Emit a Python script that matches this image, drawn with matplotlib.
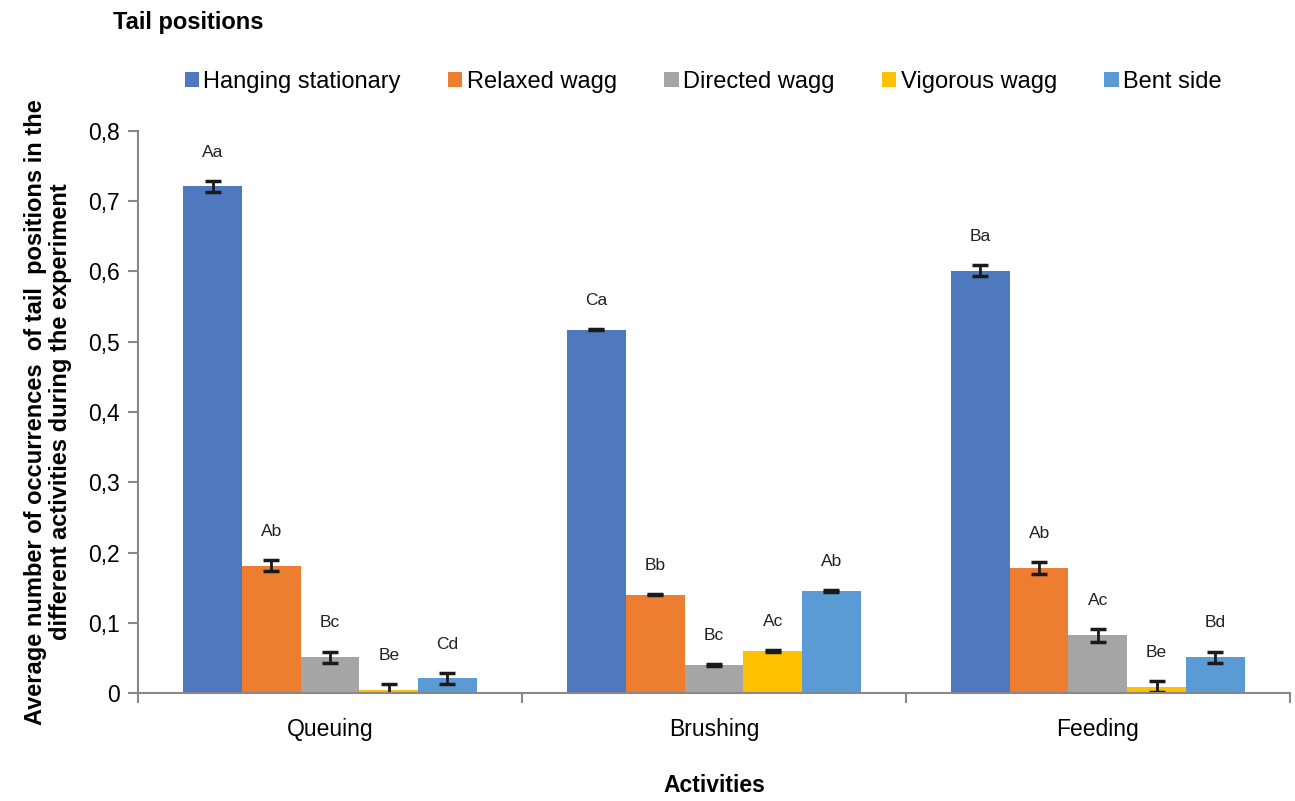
import numpy as np
import matplotlib.pyplot as plt

plt.rcParams['font.family'] = ['Liberation Sans', 'DejaVu Sans']

activities = ['Queuing', 'Brushing', 'Feeding']
positions = ['Hanging stationary', 'Relaxed wagg', 'Directed wagg', 'Vigorous wagg', 'Bent side']
colors = ['#4E79BE', '#ED7D31', '#A5A5A5', '#FFC000', '#5B9BD5']

# mean occurrences per activity, one list per tail position
hanging = [0.721, 0.517, 0.601]
relaxed = [0.181, 0.140, 0.178]
directed = [0.051, 0.040, 0.082]
vigorous = [0.005, 0.060, 0.009]
bent = [0.021, 0.145, 0.051]

hanging_err = [0.008, 0.001, 0.008]
relaxed_err = [0.008, 0.001, 0.008]
directed_err = [0.008, 0.001, 0.009]
vigorous_err = [0.008, 0.001, 0.008]
bent_err = [0.008, 0.001, 0.008]

hanging_lab = ['Aa', 'Ca', 'Ba']
relaxed_lab = ['Ab', 'Bb', 'Ab']
directed_lab = ['Bc', 'Bc', 'Ac']
vigorous_lab = ['Be', 'Ac', 'Be']
bent_lab = ['Cd', 'Ab', 'Bd']

series = [hanging, relaxed, directed, vigorous, bent]
errs = [hanging_err, relaxed_err, directed_err, vigorous_err, bent_err]
labs = [hanging_lab, relaxed_lab, directed_lab, vigorous_lab, bent_lab]

fig = plt.figure(figsize=(12.95, 8.01), dpi=100)
ax = fig.add_axes([0.1066, 0.1348, 0.8894, 0.7017])

x = np.arange(len(activities))
w = 0.153
for i in range(5):
    pos = x + (i - 2) * w
    ax.bar(pos, series[i], w, color=colors[i], label=positions[i], zorder=2)
    ax.errorbar(pos, series[i], yerr=errs[i], fmt='none', ecolor='#1a1a1a',
                elinewidth=2, capsize=6, capthick=2.5, zorder=2.2)
    for p, v, e, t in zip(pos, series[i], errs[i], labs[i]):
        ax.text(p, v + e + 0.03, t, ha='center', va='bottom', fontsize=12.5, color='#222222')

ax.set_xlim(-0.5, 2.5)
ax.set_ylim(0, 0.8)
ax.set_yticks(np.arange(0, 0.81, 0.1))
ax.set_yticklabels(['0'] + ['0,%d' % k for k in range(1, 9)])
ax.set_xticks(x)
ax.set_xticklabels(activities)
ax.set_xticks([-0.5, 0.5, 1.5, 2.5], minor=True)
ax.tick_params(axis='x', which='major', length=0, pad=18, labelsize=16.5)
ax.tick_params(axis='x', which='minor', length=7, width=1.5, color='#888888')
ax.tick_params(axis='y', length=7, width=1.5, color='#888888', labelsize=16.5, pad=6)

for s in ['top', 'right']:
    ax.spines[s].set_visible(False)
for s in ['left', 'bottom']:
    ax.spines[s].set_color('#888888')
    ax.spines[s].set_linewidth(1.5)
    ax.spines[s].set_zorder(2.5)

ax.set_xlabel('Activities', fontsize=16.5, fontweight='bold', labelpad=24)
ax.set_ylabel('Average number of occurrences  of tail  positions in the\n'
              'different activities during the experiment',
              fontsize=17, fontweight='bold', labelpad=12, linespacing=1.1)

fig.text(0.087, 0.972, 'Tail positions', fontsize=17, fontweight='bold', va='center')
fig.legend(loc='center', bbox_to_anchor=(0.543, 0.898), ncol=5, frameon=False,
           fontsize=17, handlelength=0.6, handleheight=0.6, handletextpad=0.2,
           columnspacing=2.0)

fig.savefig('out.png', dpi=100)
